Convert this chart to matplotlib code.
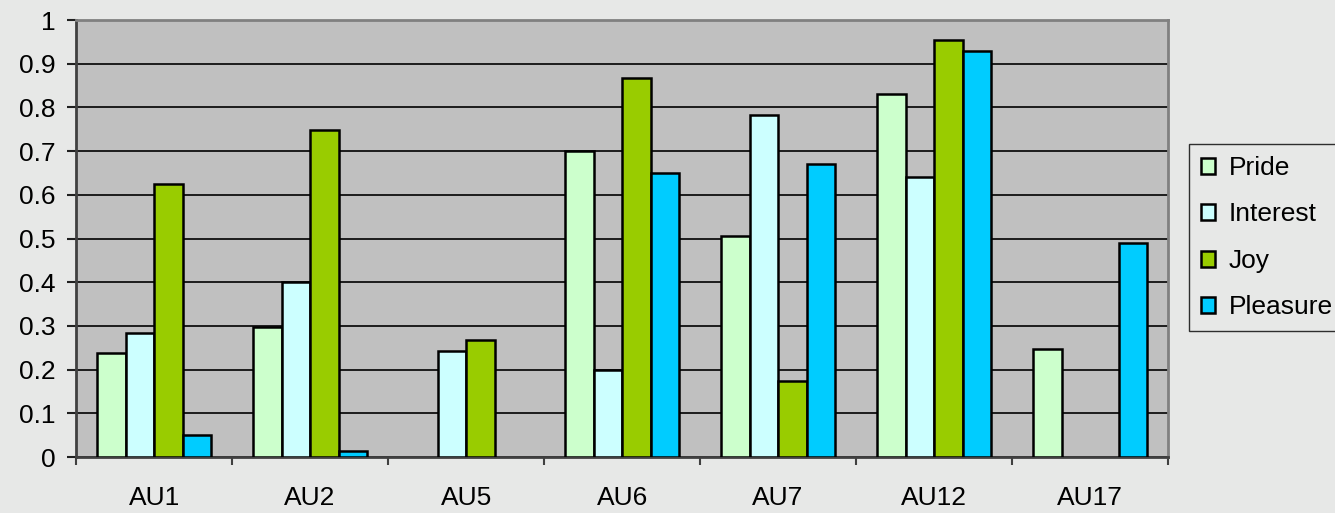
import numpy as np
import matplotlib.pyplot as plt
from matplotlib.ticker import FixedLocator, NullFormatter

plt.rcParams["font.family"] = ["Liberation Sans", "DejaVu Sans"]

# Action units and emotion scores
units = ["AU1", "AU2", "AU5", "AU6", "AU7", "AU12", "AU17"]
pride = [0.237, 0.298, np.nan, 0.700, 0.505, 0.830, 0.247]
interest = [0.283, 0.400, 0.242, 0.200, 0.783, 0.640, np.nan]
joy = [0.625, 0.748, 0.268, 0.868, 0.175, 0.955, np.nan]
pleasure = [0.050, 0.015, np.nan, 0.650, 0.670, 0.930, 0.490]

series = [
    ("Pride", pride, "#ccffcc"),
    ("Interest", interest, "#ccffff"),
    ("Joy", joy, "#99cc00"),
    ("Pleasure", pleasure, "#00ccff"),
]

bg = "#e7e8e7"
fig = plt.figure(figsize=(13.35, 5.13), dpi=100, facecolor=bg)
ax = fig.add_axes([0.057, 0.109, 0.818, 0.852])
ax.set_facecolor("#c0c0c0")

x = np.arange(len(units))
w = 0.183
for i, (name, vals, col) in enumerate(series):
    ax.bar(x + (i - 1.5) * w, vals, width=w, color=col, edgecolor="black",
           linewidth=1.8, label=name, zorder=3)

ax.set_xlim(-0.5, len(units) - 0.5)
ax.set_ylim(0, 1)
ax.set_yticks(np.arange(0, 1.01, 0.1))
ax.set_yticklabels(["0", "0.1", "0.2", "0.3", "0.4", "0.5", "0.6", "0.7", "0.8", "0.9", "1"])
ax.yaxis.grid(True, color="black", linewidth=1.2, zorder=1)
ax.set_axisbelow(True)

# category labels centered, ticks on the boundaries
ax.set_xticks(x)
ax.set_xticklabels(units)
ax.tick_params(axis="x", length=0, pad=21, labelsize=19)
ax.xaxis.set_minor_locator(FixedLocator(np.arange(-0.5, len(units), 1.0)))
ax.xaxis.set_minor_formatter(NullFormatter())
ax.tick_params(axis="x", which="minor", length=6, width=1.5, color="#404040")
ax.tick_params(axis="y", length=6.5, width=1.5, color="#202020", labelsize=19, pad=8)

for side in ["left", "bottom"]:
    ax.spines[side].set_color("#404040")
    ax.spines[side].set_linewidth(2)
for side in ["top", "right"]:
    ax.spines[side].set_color("#808080")
    ax.spines[side].set_linewidth(2)

leg = fig.legend(loc="upper left", bbox_to_anchor=(0.8906, 0.719), fontsize=19,
                 frameon=True, fancybox=False, facecolor=bg, edgecolor="black",
                 handlelength=0.55, handleheight=0.55, handletextpad=0.5,
                 labelspacing=0.85, borderpad=0.45, borderaxespad=0)
leg.get_frame().set_linewidth(1.0)

fig.savefig("out.png", dpi=100, facecolor=bg)
plt.close("all")
